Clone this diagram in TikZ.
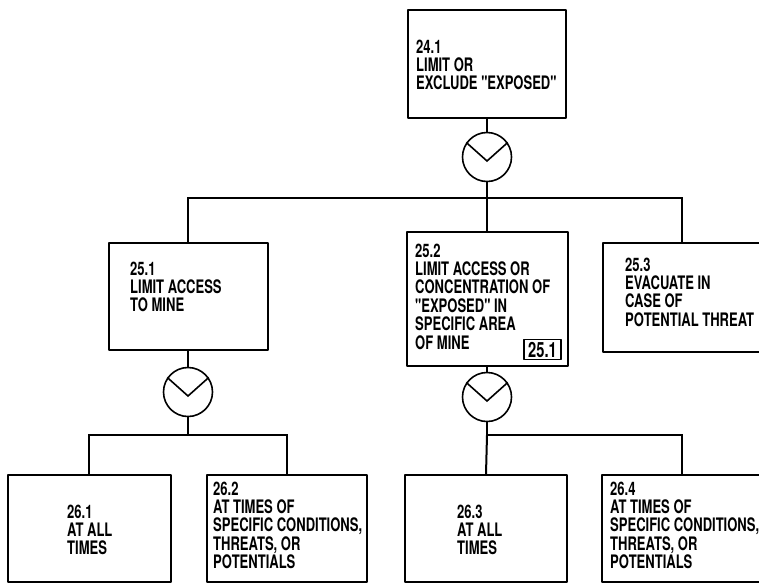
\documentclass[tikz,border=0pt]{standalone}
\usepackage{fontspec}
\newfontfamily\diafont[FakeStretch=0.7,UprightFont=* Bold]{TeX Gyre Heros}
\begin{document}
\begin{tikzpicture}[x=1pt,y=-1pt,
  box/.style={draw, rectangle, line width=2pt, inner sep=0pt, line join=round},
  orgate/.style={draw, circle, line width=1.6pt, minimum size=49pt, inner sep=0pt},
  gatev/.style={line width=1.6pt, line join=miter},
  conn/.style={line width=2pt},
  txt/.style={anchor=base west, inner sep=0pt, font=\diafont\fontsize{18.6}{18.4}\selectfont}
]
\useasboundingbox (0,0) rectangle (759,584);
% boxes
\node[box, minimum width=158pt, minimum height=108pt] (b241) at (487,64) {};
\node[orgate] (c1) at (487,157) {};
\node[box, minimum width=159pt, minimum height=107pt] (b251) at (188,296.5) {};
\node[box, minimum width=161pt, minimum height=134pt] (b252) at (487,299) {};
\node[box, minimum width=158pt, minimum height=109pt] (b253) at (682,297.5) {};
\node[orgate] (c2) at (188,392) {};
\node[orgate] (c3) at (487,397) {};
\node[box, minimum width=163pt, minimum height=107pt] (b261) at (89,528.5) {};
\node[box, minimum width=160pt, minimum height=107pt] (b262) at (287,528.5) {};
\node[box, minimum width=162pt, minimum height=107pt] (b263) at (486,528.5) {};
\node[box, minimum width=160pt, minimum height=107pt] (b264) at (682,528.5) {};
% gate symbols
\foreach \g in {c1,c2,c3}{
  \draw[gatev] (\g.145) -- ([yshift=-4pt]\g.center) -- (\g.35);
}
% junctions
\coordinate (j1) at (487,198);
\coordinate (j2) at (188,435);
\coordinate (j3) at (487,435);
% connectors
\draw[conn] (b241.south) -- (c1.north);
\draw[conn] (c1.south) -- (j1);
\draw[conn] (b251.north) |- (j1) -| (b253.north);
\draw[conn] (j1) -- (b252.north);
\draw[conn] (b251.south) -- (c2.north);
\draw[conn] (c2.south) -- (j2);
\draw[conn] (b261.north) |- (j2) -| (b262.north);
\draw[conn] (b252.south) -- (c3.north);
\draw[conn] (c3.south) -- (j3) -| (b264.north);
\draw[conn] (j3) -- (b263.north);
% texts
\node[txt] (t241) at (416,53) {\vtop{\hbox{24.1}\hbox{LIMIT OR}\hbox{EXCLUDE "EXPOSED"}}};
\node[txt] (t251) at (130,275) {\vtop{\hbox{25.1}\hbox{LIMIT ACCESS}\hbox{TO MINE}}};
\node[txt] (t252) at (415,257) {\vtop{\hbox{25.2}\hbox{LIMIT ACCESS OR}\hbox{CONCENTRATION OF}\hbox{"EXPOSED" IN}\hbox{SPECIFIC AREA}\hbox{OF MINE}}};
\node[txt] (t253) at (625,271) {\vtop{\hbox{25.3}\hbox{EVACUATE IN}\hbox{CASE OF}\hbox{POTENTIAL THREAT}}};
\node[txt] (t261) at (67,518) {\vtop{\hbox{26.1}\hbox{AT ALL}\hbox{TIMES}}};
\node[txt] (t262) at (213,495) {\vtop{\hbox{26.2}\hbox{AT TIMES OF}\hbox{SPECIFIC CONDITIONS,}\hbox{THREATS, OR}\hbox{POTENTIALS}}};
\node[txt] (t263) at (457,518) {\vtop{\hbox{26.3}\hbox{AT ALL}\hbox{TIMES}}};
\node[txt] (t264) at (610,495) {\vtop{\hbox{26.4}\hbox{AT TIMES OF}\hbox{SPECIFIC CONDITIONS,}\hbox{THREATS, OR}\hbox{POTENTIALS}}};
\node[box, line width=1.3pt, minimum width=37pt, minimum height=20pt, font=\diafont\fontsize{21}{21}\selectfont] (r251) at (542.5,349.5) {25.1};
\end{tikzpicture}
\end{document}
